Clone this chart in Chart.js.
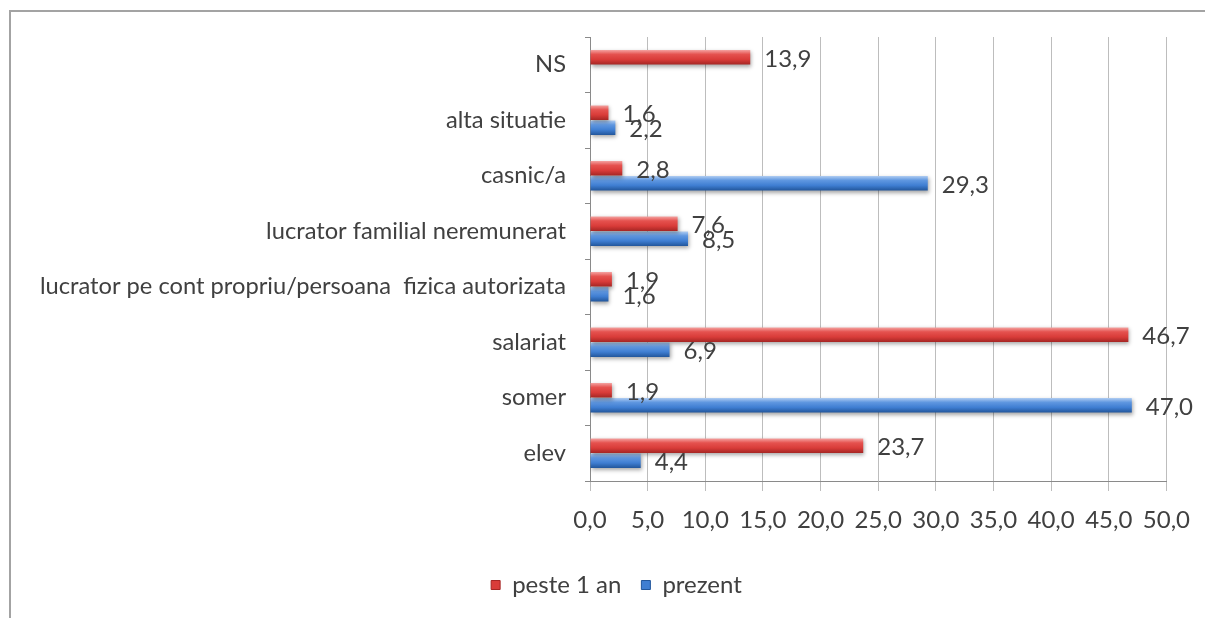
<!DOCTYPE html>
<html>
<head>
<meta charset="utf-8">
<script src="https://cdn.jsdelivr.net/npm/chart.js@4/dist/chart.umd.min.js"></script>
<style>
  html, body { margin: 0; padding: 0; background: #ffffff; overflow: hidden; }
  #wrap { position: relative; width: 1205px; height: 618px; overflow: hidden; }
  #frame {
    position: absolute; left: 9px; top: 10px; width: 1400px; height: 800px;
    border-left: 2px solid #a3a3a3; border-top: 2px solid #a3a3a3;
    box-sizing: border-box;
  }
  canvas { position: absolute; left: 0; top: 0; }
</style>
</head>
<body>
<div id="wrap">
  <div id="frame"></div>
  <canvas id="c" width="1205" height="618"></canvas>
</div>
<script>
// Situatia ocupationala: acum si peste 1 an (%)
const categories = [
  'NS',
  'alta situatie',
  'casnic/a',
  'lucrator familial neremunerat',
  'lucrator pe cont propriu/persoana  fizica autorizata',
  'salariat',
  'somer',
  'elev'
];
const seriesNames = ['peste 1 an', 'prezent'];
const pesteUnAn = [13.9, 1.6, 2.8, 7.6, 1.9, 46.7, 1.9, 23.7];
const prezent   = [null, 2.2, 29.3, 8.5, 1.6, 6.9, 47.0, 4.4];
const xTickValues = [0, 5, 10, 15, 20, 25, 30, 35, 40, 45, 50];

const FONT = 'Lato';
const FONT_SIZE = 24;
const TEXT_COLOR = '#404040';

const fmt = v => v.toFixed(1).replace('.', ',');

// cylinder-like shading for each bar
const shades = [
  ['#f4a3a1', '#e5524f', '#d93c39', '#a52624'],
  ['#b0cdf2', '#5f97e0', '#3f7ed2', '#22569b']
];

const barShading = {
  id: 'barShading',
  beforeDatasetsDraw(chart) {
    const ctx = chart.ctx;
    chart.data.datasets.forEach((ds, di) => {
      const meta = chart.getDatasetMeta(di);
      const s = shades[di];
      meta.data.forEach(el => {
        const h = el.height;
        const g = ctx.createLinearGradient(0, el.y - h / 2, 0, el.y + h / 2);
        g.addColorStop(0, s[0]);
        g.addColorStop(0.3, s[1]);
        g.addColorStop(0.65, s[2]);
        g.addColorStop(1, s[3]);
        // own options object per bar, so every bar keeps its own gradient
        el.options = Object.assign({}, el.options, { backgroundColor: g });
      });
    });
  },
  beforeDatasetDraw(chart) {
    const ctx = chart.ctx;
    ctx.save();
    ctx.shadowColor = 'rgba(0,0,0,0.35)';
    ctx.shadowBlur = 4;
    ctx.shadowOffsetX = 1;
    ctx.shadowOffsetY = 2;
  },
  afterDatasetDraw(chart) {
    chart.ctx.restore();
  }
};

// value labels to the right of every bar
const valueLabels = {
  id: 'valueLabels',
  afterDatasetsDraw(chart) {
    const ctx = chart.ctx;
    ctx.save();
    ctx.font = FONT_SIZE + 'px ' + FONT;
    ctx.fillStyle = TEXT_COLOR;
    ctx.textAlign = 'left';
    ctx.textBaseline = 'middle';
    chart.data.datasets.forEach((ds, di) => {
      const meta = chart.getDatasetMeta(di);
      meta.data.forEach((el, i) => {
        const v = ds.data[i];
        if (v === null || v === undefined) return;
        ctx.fillText(fmt(v), el.x + 14, el.y + 2);
      });
    });
    ctx.restore();
  }
};

// legend sits a little right of the canvas centre
const legendShift = {
  id: 'legendShift',
  afterLayout(chart) {
    const lg = chart.legend;
    if (lg) { lg.left += 33; lg.right += 33; }
  }
};

new Chart(document.getElementById('c'), {
  type: 'bar',
  data: {
    labels: categories,
    datasets: [
      { label: seriesNames[0], data: pesteUnAn, backgroundColor: '#d93c39' },
      { label: seriesNames[1], data: prezent, backgroundColor: '#3f7ed2' }
    ]
  },
  options: {
    indexAxis: 'y',
    responsive: false,
    animation: false,
    devicePixelRatio: 1,
    categoryPercentage: 0.54,
    barPercentage: 0.97,
    layout: { padding: { top: 37, right: 38, left: 0, bottom: 11 } },
    font: { family: FONT, size: FONT_SIZE },
    color: TEXT_COLOR,
    scales: {
      x: {
        min: 0, max: 50,
        afterBuildTicks: s => { s.ticks = xTickValues.map(v => ({ value: v })); },
        afterFit: s => { s.height = 72; },
        grid: { color: '#bdbdbd', lineWidth: 1, tickLength: 10 },
        border: { color: '#8a8a8a', width: 1 },
        ticks: {
          callback: v => fmt(v),
          color: TEXT_COLOR,
          font: { family: FONT, size: FONT_SIZE },
          padding: 15,
          maxRotation: 0
        }
      },
      y: {
        afterFit: s => { s.width = 590; },
        grid: { drawOnChartArea: false, color: '#8a8a8a', tickLength: 5 },
        border: { color: '#8a8a8a', width: 1 },
        ticks: {
          color: TEXT_COLOR,
          font: { family: FONT, size: 23.7 },
          padding: 19
        }
      }
    },
    plugins: {
      legend: {
        position: 'bottom',
        labels: {
          color: TEXT_COLOR,
          font: { family: FONT, size: FONT_SIZE },
          boxWidth: 9,
          boxHeight: 9,
          padding: 20,
          generateLabels(chart) {
            return chart.data.datasets.map((ds, i) => ({
              text: ds.label,
              fillStyle: shades[i][2],
              strokeStyle: shades[i][3],
              lineWidth: 1,
              datasetIndex: i,
              fontColor: TEXT_COLOR
            }));
          }
        }
      },
      tooltip: { enabled: false }
    }
  },
  plugins: [barShading, valueLabels, legendShift]
});
</script>
</body>
</html>
